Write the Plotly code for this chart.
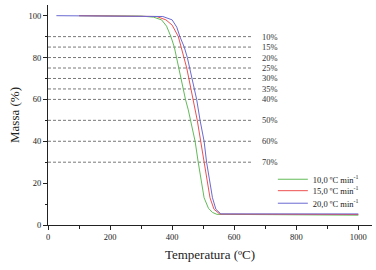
import plotly.graph_objects as go

# Data
green_T = [100, 300, 340, 366, 382, 396, 407, 414, 422, 429, 436, 443, 452, 460, 474, 484, 493, 503, 517, 530, 544, 1000]
green_m = [100, 99.8, 99.3, 98, 95, 90, 85, 80, 75, 70, 65, 60, 55, 50, 40, 30, 21, 13, 8, 6, 5.1, 4.7]
red_T = [100, 350, 380, 400, 420, 428, 438, 447, 454, 461, 468, 481, 492, 503, 511, 522, 535, 554, 1000]
red_m = [100, 99.6, 98, 95.5, 90, 85, 80, 75, 70, 65, 60, 50, 40, 30, 21, 13, 7.5, 5.2, 5.0]
blue_T = [27, 370, 400, 415, 425, 439, 449, 457, 465, 471, 479, 490, 503, 511, 520, 530, 541, 557, 1000]
blue_m = [100, 99.6, 98, 94.5, 90, 85, 80, 75, 70, 65, 60, 50, 40, 30, 21, 13, 7.5, 5.3, 5.3]

series_names = ["10,0 ºC min<sup>-1</sup>", "15,0 ºC min<sup>-1</sup>", "20,0 ºC min<sup>-1</sup>"]
series_colors = ["#62bb58", "#ee5050", "#6a6ad2"]
conversion_labels = ["10%", "15%", "20%", "25%", "30%", "35%", "40%", "50%", "60%", "70%"]
conversion_levels = [90, 85, 80, 75, 70, 65, 60, 50, 40, 30]
guide_end_T = 660
label_T = 684

x_ticks = [0, 200, 400, 600, 800, 1000]
y_ticks = [0, 20, 40, 60, 80, 100]

FONT = "Liberation Serif"
legend_ids = ["legend", "legend2", "legend3"]
legend_y = [0.208, 0.156, 0.099]

fig = go.Figure()
for T, m, name, col, lid in zip([green_T, red_T, blue_T], [green_m, red_m, blue_m],
                                series_names, series_colors, legend_ids):
    fig.add_trace(go.Scatter(x=T, y=m, mode="lines", name=name, legend=lid,
                             line=dict(color=col, width=1)))

shapes = []
annotations = []
for lab, lev in zip(conversion_labels, conversion_levels):
    shapes.append(dict(type="line", xref="x", yref="y", x0=0, x1=guide_end_T, y0=lev, y1=lev,
                       line=dict(color="#555555", width=0.8, dash="3px,2px"), layer="below"))
    annotations.append(dict(x=label_T, y=lev, xref="x", yref="y", text=lab, showarrow=False,
                            xanchor="left", yanchor="middle",
                            font=dict(family=FONT, size=8.5, color="#333333")))

legend_common = dict(x=0.694, xanchor="left", yanchor="middle",
                     font=dict(family=FONT, size=8.5, color="#222222"),
                     bgcolor="rgba(0,0,0,0)", itemwidth=30)

fig.update_layout(
    width=376, height=270,
    margin=dict(l=48, r=4, t=5, b=45),
    paper_bgcolor="white", plot_bgcolor="white",
    showlegend=True,
    legend=dict(y=legend_y[0], **legend_common),
    legend2=dict(y=legend_y[1], **legend_common),
    legend3=dict(y=legend_y[2], **legend_common),
    shapes=shapes,
    annotations=annotations,
    font=dict(family=FONT, color="#222222"),
)
fig.update_xaxes(range=[0, 1044], tickvals=x_ticks, ticks="outside", ticklen=4, tickwidth=1,
                 tickcolor="#222222", showline=True, linecolor="#222222", linewidth=1,
                 showgrid=False, zeroline=False,
                 minor=dict(tickvals=[100, 300, 500, 700, 900], ticks="outside", ticklen=2.5,
                            tickcolor="#222222"),
                 tickfont=dict(family=FONT, size=8.5, color="#222222"),
                 title=dict(text="Temperatura (ºC)", font=dict(family=FONT, size=13, color="#222222"),
                            standoff=8))
fig.update_yaxes(range=[0, 105.1], tickvals=y_ticks, ticks="outside", ticklen=4, tickwidth=1,
                 tickcolor="#222222", showline=True, linecolor="#222222", linewidth=1,
                 showgrid=False, zeroline=False,
                 minor=dict(tickvals=[10, 30, 50, 70, 90], ticks="outside", ticklen=2.5,
                            tickcolor="#222222"),
                 tickfont=dict(family=FONT, size=8.5, color="#222222"),
                 title=dict(text="Massa (%)", font=dict(family=FONT, size=13, color="#222222"),
                            standoff=5))

fig.write_html("out.html", config={"displayModeBar": False},
               post_script="document.body.style.margin='0';")
